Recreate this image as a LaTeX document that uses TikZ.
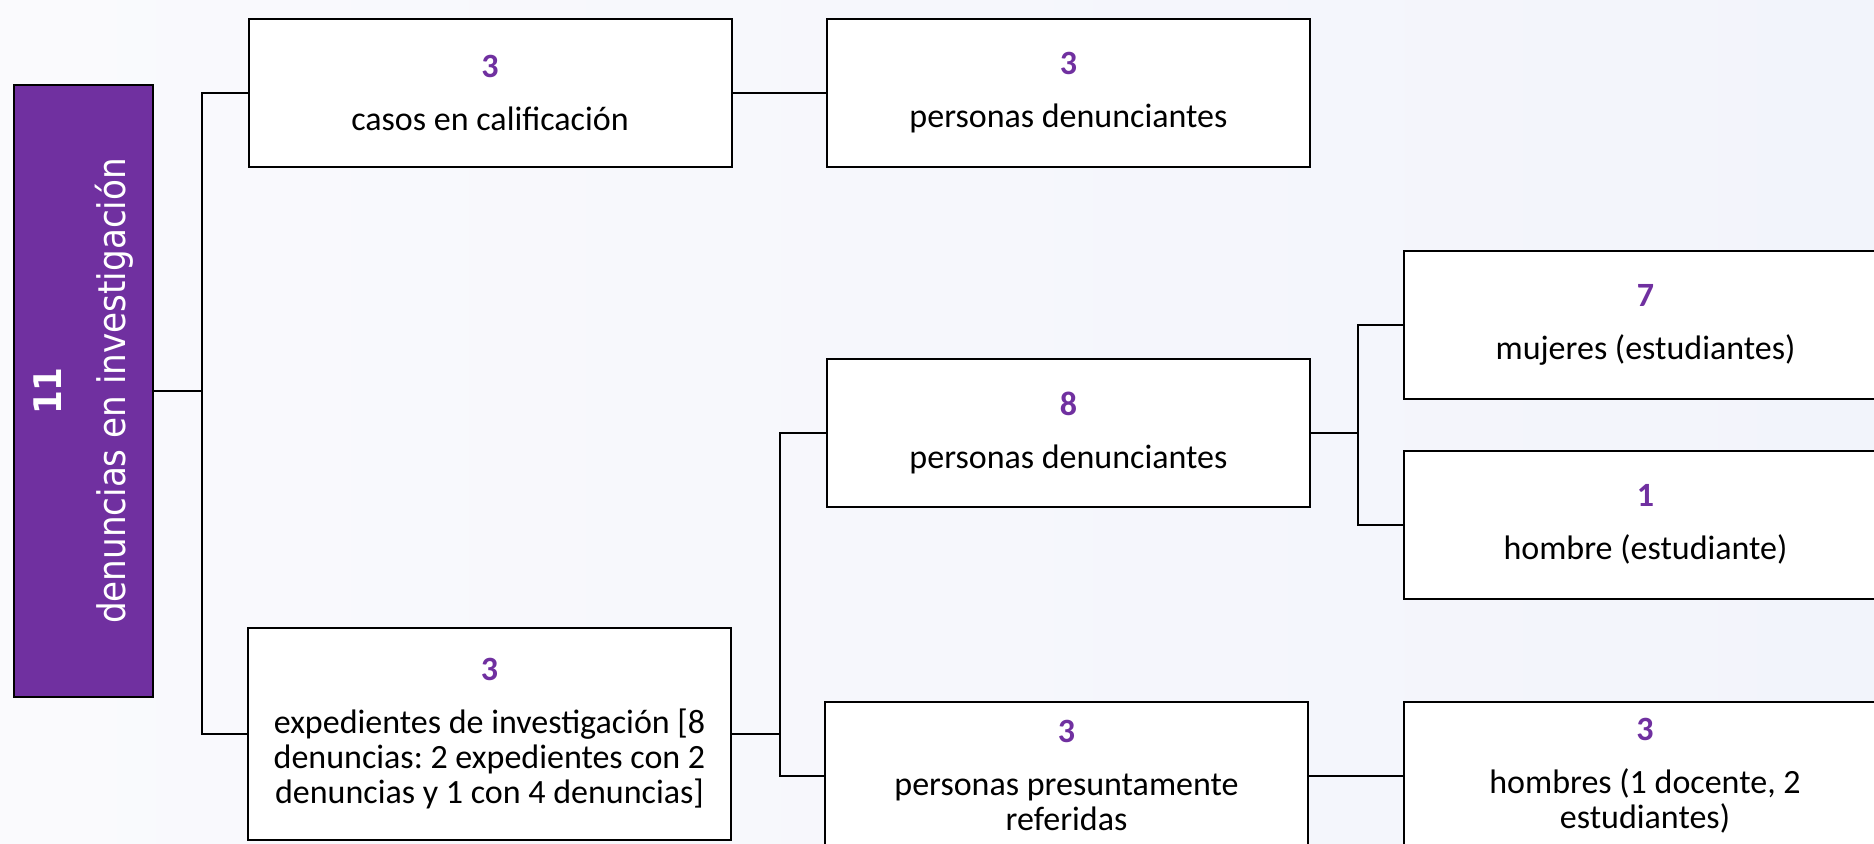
\documentclass[tikz,border=0pt]{standalone}
\usepackage{fontspec}
\setmainfont{Carlito}
\newfontfamily\raizfont{DejaVu Sans Condensed}
\definecolor{morado}{HTML}{7030A0}
\definecolor{fondoA}{HTML}{FAFAFD}
\definecolor{fondoB}{HTML}{F2F4FB}
\frenchspacing
\tikzset{
    caja/.style={draw=black, line width=1pt, fill=white, minimum width=241.5pt,
        minimum height=74pt, align=center, inner sep=0pt,
        font=\fontsize{17}{17.5}\selectfont},
    alta/.style={minimum height=106pt},
    raiz/.style={draw=black, line width=1pt, fill=morado, text=white, rotate=90,
        minimum width=306pt, minimum height=69.5pt, align=center, inner sep=0pt,
        font=\raizfont\fontsize{19}{22}\selectfont},
    linea/.style={line width=1pt},
}
\newcommand{\cifra}[1]{\textbf{\color{morado}#1}\\[9pt]}
\begin{document}
\begin{tikzpicture}[x=0.5pt, y=-0.5pt]
        \useasboundingbox (0,0) rectangle (1874,843);
        \clip (0,0) rectangle (1874,843);
        \shade[left color=fondoA, right color=fondoB] (0,0) rectangle (1874,843);

        \node[raiz] (raiz) at (83.5,391) {\textbf{11}\\[10pt]denuncias en investigación};

        \node[caja] (casos) at (490,93) {\cifra{3}casos en calificación};
        \node[caja] (den3) at (1068.5,93) {\cifra{3}personas denunciantes};

        \node[caja, alta] (exped) at (489.5,734) {\cifra{3}expedientes de investigación [8\\
            denuncias: 2 expedientes con 2\\ denuncias y 1 con 4 denuncias]};
        \node[caja] (den8) at (1068.5,433) {\cifra{8}personas denunciantes};
        \node[caja] (refer) at (1066.5,775.5) {\cifra{3}personas presuntamente\\ referidas};

        \node[caja] (mujeres) at (1645.5,324.5) {\cifra{7}mujeres (estudiantes)};
        \node[caja] (hombre) at (1645.5,524.5) {\cifra{1}hombre (estudiante)};
        \node[caja] (hombres) at (1645,775.5) {\cifra{3}hombres (1 docente, 2\\ estudiantes)};

        % conectores
        \draw[linea] (raiz.south) -- ++(48,0) |- (casos.west);
        \draw[linea] (raiz.south) -- ++(48,0) |- (exped.west);
        \draw[linea] (casos.east) -- (den3.west);
        \draw[linea] (exped.east) -- ++(48,0) |- (den8.west);
        \draw[linea] (exped.east) -- ++(48,0) |- (refer.west);
        \draw[linea] (den8.east) -- ++(47,0) |- (mujeres.west);
        \draw[linea] (den8.east) -- ++(47,0) |- (hombre.west);
        \draw[linea] (refer.east) -- (hombres.west);
    \end{tikzpicture}
\end{document}
